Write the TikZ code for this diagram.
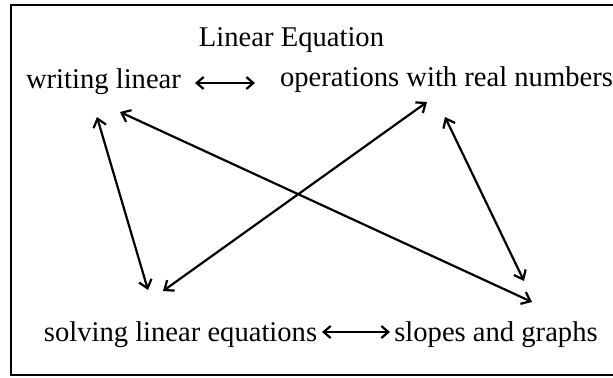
\documentclass[tikz,border=0pt]{standalone}
\usepackage{fontspec}
\setmainfont{Liberation Serif}
\usetikzlibrary{arrows.meta,calc}
\begin{document}
\begin{tikzpicture}[x=0.5pt,y=-0.5pt,
  lbl/.style={inner sep=0pt,anchor=base,font=\fontsize{14.3}{17}\selectfont},
  arr/.style={line width=1.1pt,{Straight Barb[length=4pt,width=6.5pt,line width=1.1pt]}-{Straight Barb[length=4pt,width=6.5pt,line width=1.1pt]}},
  harr/.style={line width=1.1pt,{Straight Barb[length=3.5pt,width=6pt,line width=1.1pt]}-{Straight Barb[length=3.5pt,width=6pt,line width=1.1pt]}}]
\useasboundingbox (0,0) rectangle (613,377);
\draw[line width=1.4pt] (11,5) rectangle (625,375);
\node[lbl] (title) at (291.5,46) {Linear Equation};
\node[lbl] (wl) at (103.5,88) {writing linear};
\node[lbl] (ops) at (446.5,86) {operations with real numbers};
\node[lbl] (sol) at (180.5,341) {solving linear equations};
\node[lbl] (slo) at (496,341) {slopes and graphs};
\draw[arr] ($(wl.base)+(-6.5,29)$) -- ($(sol.base)+(-32.5,-51)$);
\draw[arr] ($(wl.base)+(16.5,24)$) -- ($(slo.base)+(36,-39)$);
\draw[arr] ($(ops.base)+(-19.5,16)$) -- ($(sol.base)+(-17.5,-50)$);
\draw[arr] ($(ops.base)+(-1.5,31)$) -- ($(slo.base)+(28,-60)$);
\draw[harr] ($(wl.base)+(91.5,-5)$) -- ($(ops.base)+(-191.5,-3)$);
\draw[harr] ($(sol.base)+(141.5,-9)$) -- ($(slo.base)+(-106,-9)$);
\end{tikzpicture}
\end{document}
